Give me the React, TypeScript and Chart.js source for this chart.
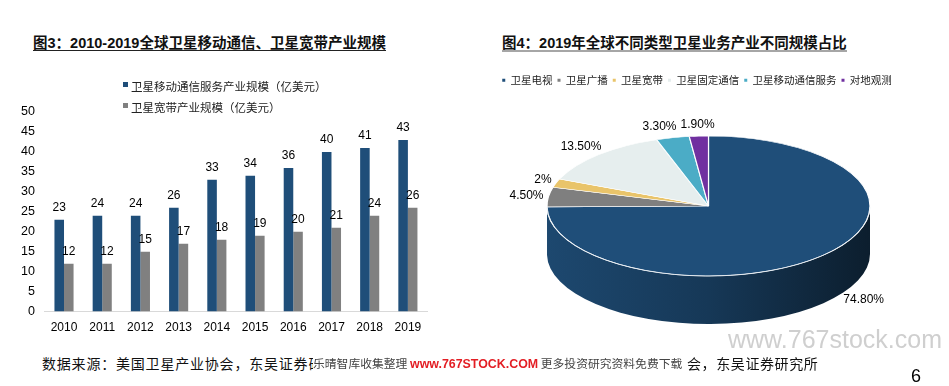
import React, { useEffect, useRef } from "react";
import { Chart, registerables } from "chart.js";

Chart.register(...registerables);

// ---------- data ----------
const years = ["2010", "2011", "2012", "2013", "2014", "2015", "2016", "2017", "2018", "2019"];
const mobileServiceScale = [23, 24, 24, 26, 33, 34, 36, 40, 41, 43];
const broadbandScale = [12, 12, 15, 17, 18, 19, 20, 21, 24, 26];
const barSeriesNames = ["卫星移动通信服务产业规模（亿美元）", "卫星宽带产业规模（亿美元）"];
const yAxisMax = 50;
const yAxisStep = 5;

const pieCategories = ["卫星电视", "卫星广播", "卫星宽带", "卫星固定通信", "卫星移动通信服务", "对地观测"];
const pieShares = [74.8, 4.5, 2, 13.5, 3.3, 1.9];
const pieValueLabels = ["74.80%", "4.50%", "2%", "13.50%", "3.30%", "1.90%"];

// ---------- styles ----------
const BAR_COLORS = ["#1F4E79", "#808080"];
const PIE_COLORS = ["#1F4E79", "#7F7F7F", "#E9C46A", "#E6EEEE", "#4BACC6", "#7030A0"];
const LATIN = '"Liberation Sans", Arial, sans-serif';
const CJK = '"Noto Sans CJK SC", sans-serif';
const MIXED = '"Liberation Sans", "Noto Sans CJK SC", sans-serif';

const PIE_LEFT = 483;
const PIE_TOP = 70;
const PIE_W = 428;
const PIE_H = 400;
const PIE_CX = 708.5 - PIE_LEFT;
const PIE_CY = 206 - PIE_TOP;
const PIE_RX = 161.5;
const PIE_K = 70 / 161.5;
const PIE_DEPTH = 48;

function shade(hex: string, f: number) {
  const n = parseInt(hex.slice(1), 16);
  const r = Math.round(((n >> 16) & 255) * f);
  const g = Math.round(((n >> 8) & 255) * f);
  const b = Math.round((n & 255) * f);
  return `rgb(${r},${g},${b})`;
}

function BarChart() {
  const ref = useRef<HTMLCanvasElement>(null);
  useEffect(() => {
    const canvas = ref.current!;
    const valueLabels = {
      id: "valueLabels",
      afterDatasetsDraw(chart: any) {
        const ctx = chart.ctx;
        ctx.save();
        ctx.font = `12px ${LATIN}`;
        ctx.fillStyle = "#000";
        ctx.textAlign = "center";
        ctx.textBaseline = "middle";
        chart.data.datasets.forEach((ds: any, i: number) => {
          const meta = chart.getDatasetMeta(i);
          meta.data.forEach((el: any, j: number) => {
            ctx.fillText(String(ds.data[j]), el.x, el.y - 12);
          });
        });
        ctx.restore();
      },
    };
    const stackedLegend = {
      id: "stackedLegend",
      afterDraw(chart: any) {
        const ctx = chart.ctx;
        ctx.save();
        ctx.font = `11.5px ${CJK}`;
        ctx.textBaseline = "middle";
        ctx.textAlign = "left";
        chart.data.datasets.forEach((ds: any, i: number) => {
          const cy = 26.5 + i * 21;
          ctx.fillStyle = ds.backgroundColor;
          ctx.fillRect(123, cy - 4.5, 5, 5);
          ctx.fillStyle = "#222";
          ctx.fillText(ds.label, 131, cy);
        });
        ctx.restore();
      },
    };
    const chart = new Chart(canvas, {
      type: "bar",
      data: {
        labels: years,
        datasets: [
          { label: barSeriesNames[0], data: mobileServiceScale, backgroundColor: BAR_COLORS[0] },
          { label: barSeriesNames[1], data: broadbandScale, backgroundColor: BAR_COLORS[1] },
        ],
      },
      options: {
        responsive: false,
        animation: false,
        devicePixelRatio: 1,
        layout: { padding: { left: 11, right: 43, top: 52, bottom: 6 } },
        datasets: { bar: { barPercentage: 1, categoryPercentage: 0.5 } },
        scales: {
          x: {
            grid: { display: false, drawTicks: false },
            border: { display: true, color: "#D9D9D9", width: 1 },
            ticks: { color: "#000", font: { family: LATIN, size: 12 }, padding: 9 },
          },
          y: {
            min: 0,
            max: yAxisMax,
            grid: { display: false, drawTicks: false },
            border: { display: false },
            ticks: { stepSize: yAxisStep, color: "#000", font: { family: LATIN, size: 12.5 }, padding: 10 },
          },
        },
        plugins: { legend: { display: false }, tooltip: { enabled: false } },
      },
      plugins: [valueLabels, stackedLegend],
    } as any);
    return () => chart.destroy();
  }, []);
  return <canvas ref={ref} width={470} height={290} style={{ position: "absolute", left: 0, top: 60 }} />;
}

function PieChart() {
  const ref = useRef<HTMLCanvasElement>(null);
  useEffect(() => {
    const canvas = ref.current!;
    const pie3d = {
      id: "pie3d",
      beforeDatasetsDraw(chart: any) {
        const meta = chart.getDatasetMeta(0);
        const ctx = chart.ctx;
        const first: any = meta.data[0];
        const rx = first.outerRadius;
        const ry = rx * PIE_K;
        ctx.save();
        meta.data.forEach((el: any, i: number) => {
          const a = Math.max(el.startAngle, 0);
          const b = Math.min(el.endAngle, Math.PI);
          if (b <= a) return;
          const base = chart.data.datasets[0].backgroundColor[i];
          const g = ctx.createLinearGradient(PIE_CX - rx, 0, PIE_CX + rx, 0);
          g.addColorStop(0, shade(base, 0.92));
          g.addColorStop(0.5, shade(base, 0.72));
          g.addColorStop(1, shade(base, 0.38));
          ctx.beginPath();
          ctx.ellipse(PIE_CX, PIE_CY, rx, ry, 0, a, b);
          ctx.lineTo(PIE_CX + rx * Math.cos(b), PIE_CY + PIE_DEPTH + ry * Math.sin(b));
          ctx.ellipse(PIE_CX, PIE_CY + PIE_DEPTH, rx, ry, 0, b, a, true);
          ctx.closePath();
          ctx.fillStyle = g;
          ctx.fill();
        });
        ctx.restore();
        ctx.save();
        ctx.translate(PIE_CX, PIE_CY);
        ctx.scale(1, PIE_K);
        ctx.translate(-first.x, -first.y);
      },
      afterDatasetsDraw(chart: any) {
        const ctx = chart.ctx;
        ctx.restore();
        const meta = chart.getDatasetMeta(0);
        const first: any = meta.data[0];
        const rx = first.outerRadius;
        const ry = rx * PIE_K;
        // rim highlight
        ctx.save();
        ctx.beginPath();
        ctx.ellipse(PIE_CX, PIE_CY, rx, ry, 0, 0.02, Math.PI - 0.02);
        ctx.strokeStyle = "rgba(235,240,245,0.85)";
        ctx.lineWidth = 1;
        ctx.stroke();
        ctx.restore();
        // value labels
        ctx.save();
        ctx.font = `12px ${LATIN}`;
        ctx.fillStyle = "#000";
        ctx.textAlign = "center";
        ctx.textBaseline = "middle";
        const items = meta.data.map((el: any, i: number) => {
          const mid = (el.startAngle + el.endAngle) / 2;
          const c = Math.cos(mid);
          const s = Math.sin(mid);
          const text = pieValueLabels[i];
          const w = ctx.measureText(text).width;
          let x = PIE_CX + rx * c + c * (w / 2 + 5);
          let y = PIE_CY + ry * s + s * (6 + 5);
          if (s > 0) {
            y += PIE_DEPTH * s + 3;
            x += c * PIE_DEPTH * 0.65;
          }
          return { text, x, y, w };
        });
        const upper = items.filter((it: any) => it.y < PIE_CY).sort((p: any, q: any) => q.x - p.x);
        for (let k = 1; k < upper.length; k++) {
          const prev = upper[k - 1];
          const cur = upper[k];
          if (Math.abs(prev.y - cur.y) < 13) {
            const maxRight = prev.x - prev.w / 2 - 4;
            if (cur.x + cur.w / 2 > maxRight) cur.x = maxRight - cur.w / 2;
          }
        }
        items.forEach((it: any) => ctx.fillText(it.text, it.x, it.y));
        ctx.restore();
      },
    };
    const chart = new Chart(canvas, {
      type: "pie",
      data: {
        labels: pieCategories,
        datasets: [
          {
            data: pieShares,
            backgroundColor: PIE_COLORS,
            borderColor: "#ffffff",
            borderWidth: 1.2,
            radius: PIE_RX,
          },
        ],
      },
      options: {
        responsive: false,
        animation: false,
        devicePixelRatio: 1,
        plugins: {
          tooltip: { enabled: false },
          legend: {
            position: "top",
            labels: {
              font: { family: CJK, size: 10.5 },
              color: "#222",
              boxWidth: 3,
              boxHeight: 3,
              padding: 5,
              generateLabels(chart: any) {
                const items = (Chart as any).overrides.pie.plugins.legend.labels.generateLabels(chart);
                return items.map((it: any) => ({ ...it, strokeStyle: it.fillStyle, lineWidth: 0 }));
              },
            },
          },
        },
      },
      plugins: [pie3d],
    } as any);
    return () => chart.destroy();
  }, []);
  return (
    <canvas
      ref={ref}
      width={PIE_W}
      height={PIE_H}
      style={{ position: "absolute", left: PIE_LEFT, top: PIE_TOP }}
    />
  );
}

export default function App() {
  return (
    <div
      style={{
        position: "absolute",
        left: 0,
        top: 0,
        width: 949,
        height: 386,
        overflow: "hidden",
        background: "#fff",
      }}
    >
      <div
        style={{
          position: "absolute",
          left: 33,
          top: 36,
          font: `bold 14.5px ${MIXED}`,
          lineHeight: "14px",
          color: "#111",
          borderBottom: "1px solid #222",
          whiteSpace: "nowrap",
        }}
      >
        图3：2010-2019全球卫星移动通信、卫星宽带产业规模
      </div>
      <div
        style={{
          position: "absolute",
          left: 502,
          top: 36,
          font: `bold 14.5px ${MIXED}`,
          lineHeight: "14px",
          color: "#111",
          borderBottom: "2px solid #A6A6A6",
          whiteSpace: "nowrap",
        }}
      >
        图4：2019年全球不同类型卫星业务产业不同规模占比
      </div>
      <BarChart />
      <PieChart />
      <div
        style={{
          position: "absolute",
          left: 728,
          top: 325,
          font: `25px ${LATIN}`,
          lineHeight: "28px",
          color: "#CFCFCF",
          whiteSpace: "nowrap",
        }}
      >
        www.767stock.com
      </div>
      <div
        style={{
          position: "absolute",
          left: 42,
          top: 354,
          font: `14px ${CJK}`,
          letterSpacing: "0.8px",
          lineHeight: "18px",
          color: "#111",
          whiteSpace: "nowrap",
        }}
      >
        数据来源：美国卫星产业协会，东吴证券研究所
      </div>
      <div
        style={{
          position: "absolute",
          left: 313,
          top: 354,
          width: 374,
          height: 18,
          background: "#fff",
          whiteSpace: "nowrap",
          lineHeight: "18px",
        }}
      >
        <span style={{ font: `11.8px ${CJK}`, color: "#444" }}>乐晴智库收集整理 </span>
        <span style={{ font: `bold 12.4px ${LATIN}`, color: "#E31E24" }}>www.767STOCK.COM</span>
        <span style={{ font: `11.8px ${CJK}`, color: "#444" }}> 更多投资研究资料免费下载</span>
      </div>
      <div
        style={{
          position: "absolute",
          left: 687,
          top: 354,
          font: `14px ${CJK}`,
          letterSpacing: "0.6px",
          lineHeight: "18px",
          color: "#111",
          whiteSpace: "nowrap",
        }}
      >
        会，东吴证券研究所
      </div>
      <div
        style={{
          position: "absolute",
          left: 911,
          top: 365,
          font: `18px ${LATIN}`,
          lineHeight: "22px",
          color: "#000",
        }}
      >
        6
      </div>
    </div>
  );
}
